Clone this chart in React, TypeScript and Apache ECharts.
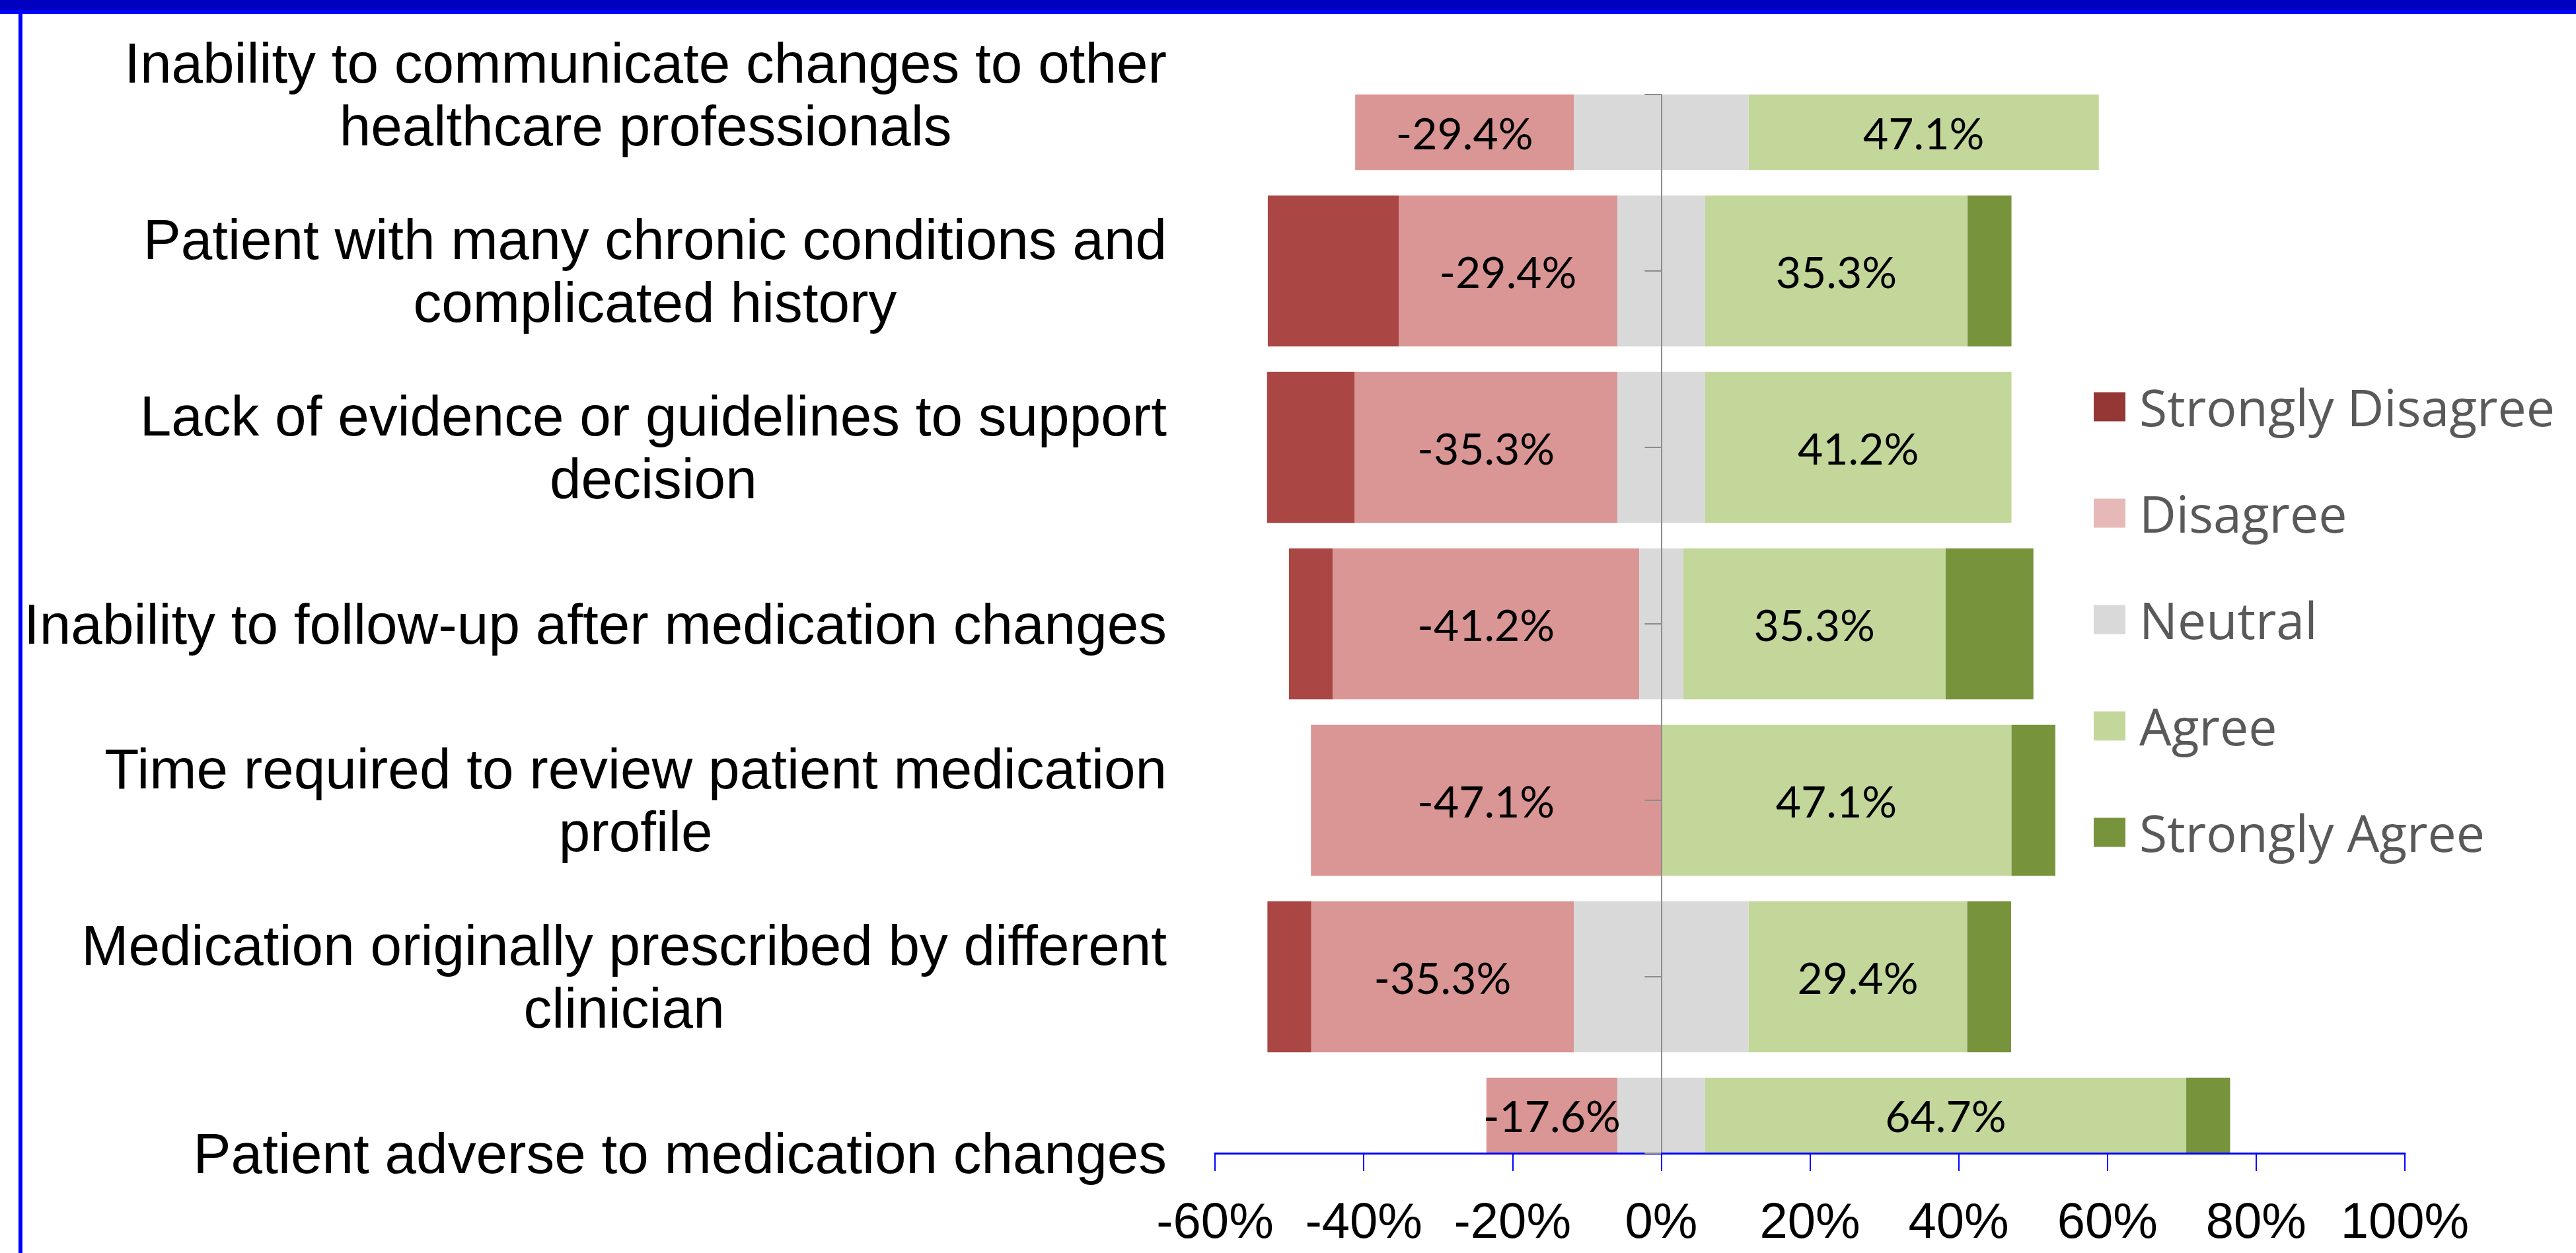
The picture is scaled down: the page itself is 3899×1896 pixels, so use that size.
import React, { useEffect, useRef } from 'react';
import * as echarts from 'echarts';

const categories = [
  'Inability to communicate changes to other\nhealthcare professionals',
  'Patient with many chronic conditions and\ncomplicated history',
  'Lack of evidence or guidelines to support\ndecision',
  'Inability to follow-up after medication changes',
  'Time required to review patient medication\nprofile',
  'Medication originally prescribed by different\nclinician',
  'Patient adverse to medication changes',
];
const stronglyDisagree = [0, 17.6, 11.8, 5.9, 0, 5.9, 0];
const disagree = [29.4, 29.4, 35.3, 41.2, 47.1, 35.3, 17.6];
const neutral = [23.5, 11.8, 11.8, 5.9, 0, 23.5, 11.8];
const agree = [47.1, 35.3, 41.2, 35.3, 47.1, 29.4, 64.7];
const stronglyAgree = [0, 5.9, 0, 11.8, 5.9, 5.9, 5.9];
const xTicks = [-60, -40, -20, 0, 20, 40, 60, 80, 100];
const legendNames = ['Strongly Disagree', 'Disagree', 'Neutral', 'Agree', 'Strongly Agree'];

const BAR_COLORS: Record<string, string> = {
  'Strongly Disagree': '#AA4644',
  Disagree: '#DA9694',
  Neutral: '#D9D9D9',
  Agree: '#C4D79B',
  'Strongly Agree': '#77933C',
};
const LEGEND_COLORS: Record<string, string> = {
  'Strongly Disagree': '#953735',
  Disagree: '#E6B9B8',
  Neutral: '#D9D9D9',
  Agree: '#C4D79B',
  'Strongly Agree': '#77933C',
};
const BAR_RATIO = 0.855;

// Build [start, end, categoryIndex, labelValue] segments for a diverging stacked bar
function buildSegments() {
  const out: Record<string, number[][]> = {};
  legendNames.forEach((n) => (out[n] = []));
  categories.forEach((_, i) => {
    const half = neutral[i] / 2;
    out['Neutral'].push([-half, half, i, neutral[i]]);
    let neg = -half;
    out['Disagree'].push([neg - disagree[i], neg, i, -disagree[i]]);
    neg -= disagree[i];
    out['Strongly Disagree'].push([neg - stronglyDisagree[i], neg, i, -stronglyDisagree[i]]);
    let pos = half;
    out['Agree'].push([pos, pos + agree[i], i, agree[i]]);
    pos += agree[i];
    out['Strongly Agree'].push([pos, pos + stronglyAgree[i], i, stronglyAgree[i]]);
  });
  return out;
}

function makeRender(color: string, withLabel: boolean) {
  return (params: any, api: any) => {
    const start = api.value(0);
    const end = api.value(1);
    const cat = api.value(2);
    const val = api.value(3);
    if (!(end - start > 0)) return null;
    const a = api.coord([start, cat]);
    const b = api.coord([end, cat]);
    const h = api.size([0, 1])[1] * BAR_RATIO;
    const cs = params.coordSys;
    const shape = echarts.graphic.clipRectByRect(
      { x: a[0], y: a[1] - h / 2, width: b[0] - a[0], height: h },
      { x: cs.x, y: cs.y, width: cs.width, height: cs.height }
    );
    if (!shape) return null;
    const el: any = { type: 'rect', shape, style: { fill: color } };
    if (withLabel) {
      el.textContent = {
        style: {
          text: `${Number(val).toFixed(1)}%`,
          fill: '#000000',
          fontFamily: 'Lato',
          fontSize: 66,
        },
      };
      el.textConfig = { position: 'inside' };
    }
    return el;
  };
}

export default function App() {
  const ref = useRef<HTMLDivElement>(null);
  useEffect(() => {
    if (!ref.current) return;
    const chart = echarts.init(ref.current, undefined, { renderer: 'svg' });
    const segs = buildSegments();
    const labelled: Record<string, boolean> = { Disagree: true, Agree: true };
    const order = ['Strongly Disagree', 'Disagree', 'Neutral', 'Agree', 'Strongly Agree'];
    const option: any = {
      animation: false,
      backgroundColor: '#ffffff',
      grid: { left: 1839, right: 259, top: 143, bottom: 151, containLabel: false },
      xAxis: {
        type: 'value',
        min: xTicks[0],
        max: xTicks[xTicks.length - 1],
        interval: xTicks[1] - xTicks[0],
        z: 5,
        axisLine: { show: true, lineStyle: { color: '#0000FF', width: 3 } },
        axisTick: { show: true, length: 27, lineStyle: { color: '#0000FF', width: 2 } },
        axisLabel: {
          formatter: '{value}%',
          fontFamily: 'Liberation Sans',
          fontSize: 76,
          lineHeight: 66,
          color: '#000000',
          margin: 68,
        },
        splitLine: { show: false },
      },
      yAxis: [
        {
          type: 'category',
          data: categories,
          inverse: true,
          boundaryGap: false,
          position: 'left',
          axisLine: { show: false, onZero: false },
          axisTick: { show: false },
          splitLine: { show: false },
          axisLabel: {
            interval: 0,
            margin: 73,
            align: 'right',
            fontFamily: 'Liberation Sans',
            fontSize: 85.5,
            lineHeight: 95,
            color: '#000000',
            formatter: (v: string) =>
              v
                .split('\n')
                .map((l) => `{c|${l}}`)
                .join('\n'),
            rich: {
              c: {
                align: 'center',
                fontFamily: 'Liberation Sans',
                fontSize: 85.5,
                lineHeight: 95,
                color: '#000000',
              },
            },
          },
        },
        {
          type: 'category',
          data: categories,
          inverse: true,
          boundaryGap: false,
          position: 'left',
          z: 5,
          axisLine: { show: true, onZero: true, lineStyle: { color: '#8C8C8C', width: 2 } },
          axisTick: { show: true, length: 25, lineStyle: { color: '#8C8C8C', width: 2 } },
          axisLabel: { show: false },
          splitLine: { show: false },
        },
      ],
      legend: {
        orient: 'vertical',
        left: 3169,
        top: 577,
        padding: 0,
        itemGap: 84,
        itemWidth: 48,
        itemHeight: 44,
        icon: 'rect',
        selectedMode: false,
        textStyle: {
          fontFamily: 'Open Sans',
          fontSize: 77,
          lineHeight: 76,
          color: '#595959',
          padding: [0, 0, 0, 16],
        },
        data: legendNames.map((n) => ({ name: n, itemStyle: { color: LEGEND_COLORS[n] } })),
      },
      series: order.map((n) => ({
        name: n,
        type: 'custom',
        xAxisIndex: 0,
        yAxisIndex: 0,
        itemStyle: { color: BAR_COLORS[n] },
        encode: { x: [0, 1], y: 2 },
        data: segs[n],
        renderItem: makeRender(BAR_COLORS[n], !!labelled[n]),
      })),
      graphic: [
        { type: 'rect', z: 100, shape: { x: 0, y: 0, width: 3899, height: 15 }, style: { fill: '#0000C0' } },
        { type: 'rect', z: 100, shape: { x: 0, y: 15, width: 3899, height: 6 }, style: { fill: '#0000FF' } },
        { type: 'rect', z: 100, shape: { x: 28, y: 15, width: 6, height: 1881 }, style: { fill: '#0000FF' } },
      ],
    };
    chart.setOption(option);
    return () => chart.dispose();
  }, []);
  return (
    <div
      ref={ref}
      style={{ position: 'absolute', left: 0, top: 0, width: 3899, height: 1896, background: '#ffffff' }}
    />
  );
}
